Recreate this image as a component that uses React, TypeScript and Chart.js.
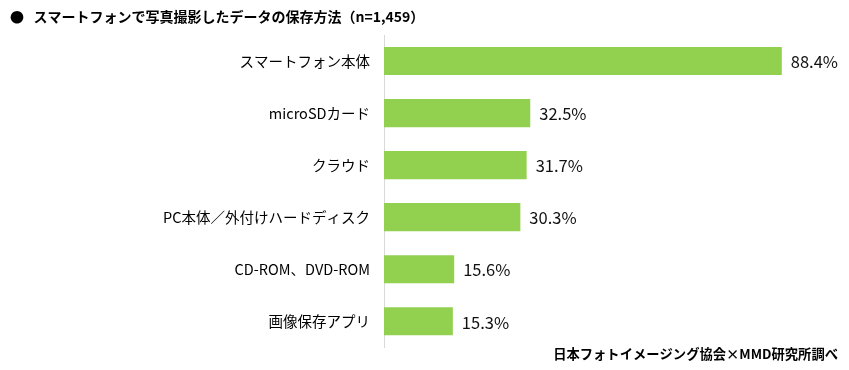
import React, { useEffect, useRef } from "react";
import { Chart, registerables } from "chart.js";

Chart.register(...registerables);

const categories = [
  "スマートフォン本体",
  "microSDカード",
  "クラウド",
  "PC本体／外付けハードディスク",
  "CD-ROM、DVD-ROM",
  "画像保存アプリ",
];
const values = [88.4, 32.5, 31.7, 30.3, 15.6, 15.3];
const titleText = "●   スマートフォンで写真撮影したデータの保存方法（n=1,459）";
const sourceText = "日本フォトイメージング協会×MMD研究所調べ";

const FONT = "'Noto Sans CJK JP', 'Noto Sans', sans-serif";

const overlayPlugin = {
  id: "overlay",
  afterDatasetsDraw(chart: any) {
    const ctx = chart.ctx;
    const meta = chart.getDatasetMeta(0);
    ctx.save();
    ctx.font = `16.5px ${FONT}`;
    ctx.fillStyle = "#111";
    ctx.textAlign = "left";
    ctx.textBaseline = "middle";
    meta.data.forEach((bar: any, i: number) => {
      ctx.fillText(values[i].toFixed(1) + "%", bar.x + 9, bar.y + 1);
    });
    ctx.fillStyle = "#000";
    ctx.font = `bold 14px ${FONT}`;
    ctx.textAlign = "left";
    ctx.fillText(titleText, 10, 17);
    ctx.font = `bold 13.3px ${FONT}`;
    ctx.textAlign = "right";
    ctx.fillText(sourceText, 838, 354);
    ctx.restore();
  },
};

export default function App() {
  const ref = useRef<HTMLCanvasElement>(null);
  useEffect(() => {
    document.body.style.margin = "0";
    const chart = new Chart(ref.current!, {
      type: "bar",
      data: {
        labels: categories,
        datasets: [
          {
            data: values,
            backgroundColor: "#92d050",
            barPercentage: 0.54,
            categoryPercentage: 1,
          },
        ],
      },
      options: {
        indexAxis: "y",
        animation: false,
        responsive: false,
        maintainAspectRatio: false,
        layout: { padding: { top: 35, right: 15, bottom: 21, left: 0 } },
        plugins: { legend: { display: false }, tooltip: { enabled: false } },
        scales: {
          x: { display: false, min: 0, max: 100 },
          y: {
            afterFit(scale: any) {
              scale.width = 384;
            },
            grid: { display: false, drawTicks: false },
            border: { display: true, color: "#d9d9d9", width: 1 },
            ticks: {
              color: "#000",
              padding: 14,
              font: { family: FONT, size: 14.5 },
            },
          },
        },
      },
      plugins: [overlayPlugin],
    });
    return () => chart.destroy();
  }, []);
  return (
    <div style={{ width: 849, height: 370 }}>
      <canvas ref={ref} width={849} height={370} />
    </div>
  );
}
